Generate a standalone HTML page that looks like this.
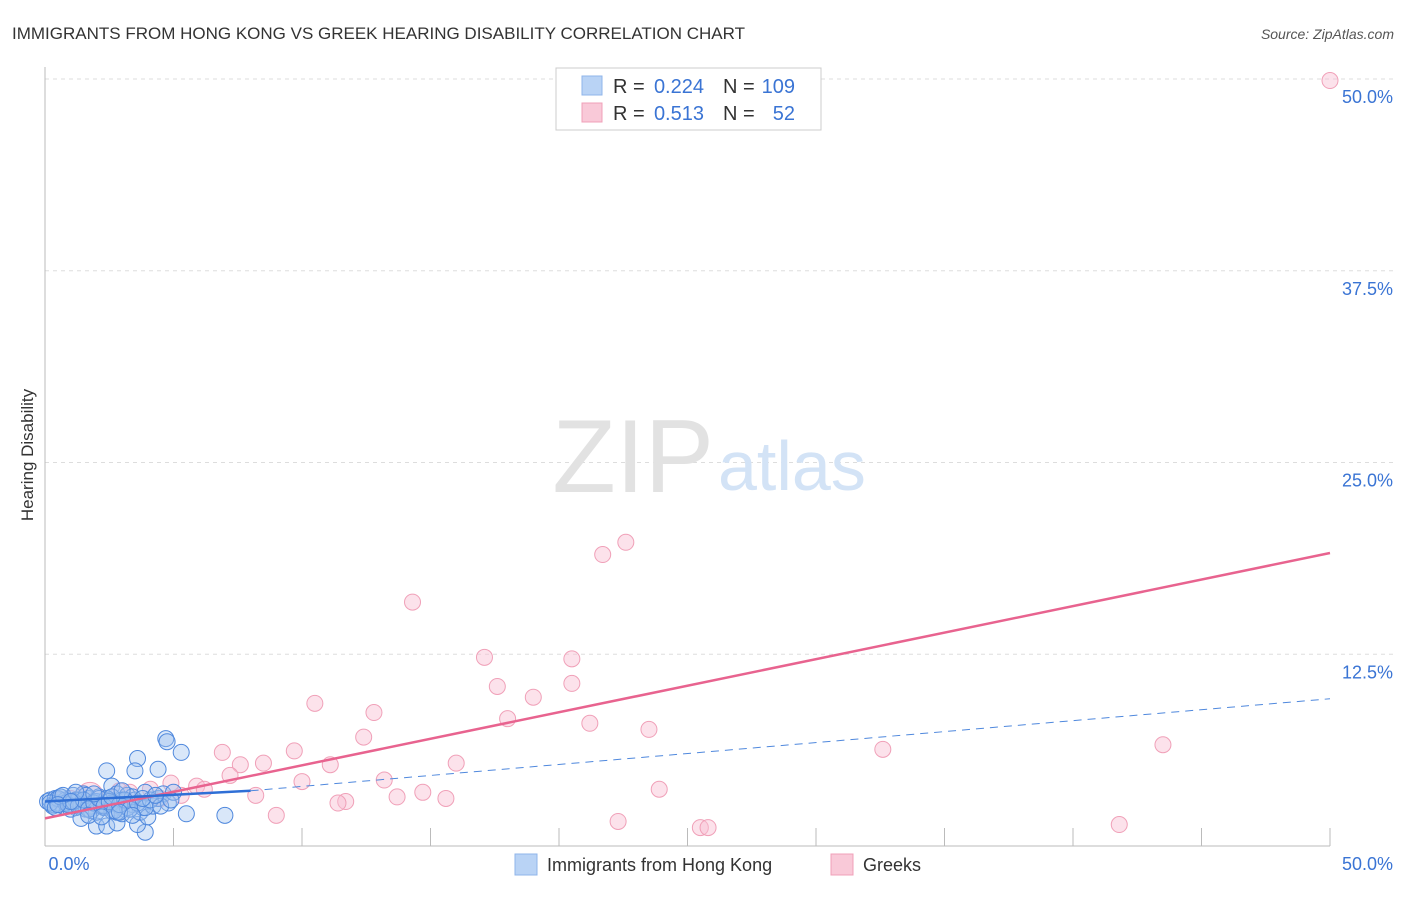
<!DOCTYPE html>
<html><head><meta charset="utf-8"><style>
body{margin:0;background:#fff;font-family:"Liberation Sans",sans-serif;}
svg text{font-family:"Liberation Sans",sans-serif;}
</style></head><body>
<svg id="chart" width="1406" height="892" viewBox="0 0 1406 892" xmlns="http://www.w3.org/2000/svg">
<text x="12" y="39" font-size="17" fill="#333">IMMIGRANTS FROM HONG KONG VS GREEK HEARING DISABILITY CORRELATION CHART</text>
<text x="1394" y="39" font-size="14" fill="#555" font-style="italic" text-anchor="end">Source: ZipAtlas.com</text>
<text transform="translate(33,455) rotate(-90)" font-size="17" fill="#333" text-anchor="middle">Hearing Disability</text>
<g id="grid"></g>
<g id="axes"></g>
<text x="714" y="492" font-size="104" text-anchor="end" fill="#e2e2e2" font-family="Liberation Serif">ZIP</text>
<text x="718" y="490" font-size="70" fill="#d3e3f6">atlas</text>
<g id="pts-pink"></g>
<g id="pts-blue"></g>
<g id="lines"></g>
<g>
<rect x="556" y="68" width="265" height="62" fill="#fff" stroke="#ccc"/>
<rect x="582" y="76" width="20" height="19" fill="#b9d3f5" stroke="#8fb4ea"/>
<rect x="582" y="103" width="20" height="19" fill="#f9c9d8" stroke="#f0a0b8"/>
<text x="613" y="93" font-size="20" fill="#333">R =</text>
<text x="704" y="93" font-size="20" fill="#3a74d4" text-anchor="end">0.224</text>
<text x="723" y="93" font-size="20" fill="#333">N =</text>
<text x="795" y="93" font-size="20" fill="#3a74d4" text-anchor="end">109</text>
<text x="613" y="120" font-size="20" fill="#333">R =</text>
<text x="704" y="120" font-size="20" fill="#3a74d4" text-anchor="end">0.513</text>
<text x="723" y="120" font-size="20" fill="#333">N =</text>
<text x="795" y="120" font-size="20" fill="#3a74d4" text-anchor="end">52</text>
</g>
<g>
<rect x="515" y="854" width="22" height="21" fill="#b9d3f5" stroke="#8fb4ea"/>
<text x="547" y="871" font-size="18" fill="#333">Immigrants from Hong Kong</text>
<rect x="831" y="854" width="22" height="21" fill="#f9c9d8" stroke="#f0a0b8"/>
<text x="863" y="871" font-size="18" fill="#333">Greeks</text>
</g>
</svg>
<script>
const yTicks=[12.5,25,37.5,50];
const yTickLabels=["12.5%","25.0%","37.5%","50.0%"];
const xTickLabels=["0.0%","50.0%"];
const pinkX=[50,22.6,21.7,14.3,17.1,20.5,17.6,20.5,19.0,10.5,12.8,18.0,21.2,23.5,12.4,43.5,32.6,6.9,9.7,8.5,7.6,16.0,11.1,7.2,10.0,13.2,4.9,5.9,6.2,23.9,14.7,13.7,8.2,15.6,11.7,11.4,9.0,22.3,25.5,25.8,41.8,1.75,3.3,4.1,5.3,2.5,1.0,4.5,0.6,2.9,1.5];
const pinkY=[49.9,19.8,19.0,15.9,12.3,12.2,10.4,10.6,9.7,9.3,8.7,8.3,8.0,7.6,7.1,6.6,6.3,6.1,6.2,5.4,5.3,5.4,5.3,4.6,4.2,4.3,4.1,3.9,3.7,3.7,3.5,3.2,3.3,3.1,2.9,2.8,2.0,1.6,1.2,1.2,1.4,3.3,3.5,3.7,3.3,3.0,3.1,3.1,3.0,3.6,3.4];
const blueX=[4.7,4.75,3.6,5.3,2.4,3.5,4.4,2.6,7.0,5.5,3.9,3.6,2.0,2.4,2.8,0.1,0.2,0.3,0.4,0.5,0.6,0.7,0.8,0.9,1.0,1.1,1.2,1.3,1.4,1.5,1.6,1.7,1.8,1.9,2.0,2.1,2.2,2.3,2.5,2.6,2.7,2.8,2.9,3.0,3.1,3.2,3.3,3.4,3.5,3.7,3.8,3.9,4.0,4.2,4.4,4.6,4.8,5.0,0.3,0.5,0.8,1.0,1.2,1.4,1.6,1.8,2.0,2.2,2.4,2.6,2.8,3.0,3.2,3.4,0.2,0.4,0.6,0.9,1.1,1.3,1.5,1.7,1.9,2.1,2.3,2.5,2.7,2.9,3.1,3.3,3.6,3.9,4.1,4.5,1.4,1.7,2.2,2.9,3.4,0.7,1.2,1.9,2.6,3.0,3.8,4.3,4.9,1.0,0.5];
const blueY=[7.0,6.8,5.7,6.1,4.9,4.9,5.0,3.9,2.0,2.1,0.9,1.4,1.3,1.3,1.5,2.9,3.0,2.7,3.1,2.8,3.2,2.6,3.0,2.9,2.7,3.3,2.5,3.0,2.8,3.4,2.4,3.1,2.6,2.9,2.2,3.2,2.7,2.5,3.0,2.3,2.8,3.4,2.6,2.1,2.9,3.3,2.4,2.7,3.0,2.2,2.5,3.5,1.9,2.6,3.1,3.4,2.8,3.5,2.6,3.1,2.8,2.4,3.0,2.7,3.3,2.3,2.9,2.6,3.1,2.8,2.2,3.0,2.5,3.2,2.8,2.5,3.2,2.7,2.9,2.6,3.0,2.4,2.8,3.1,2.6,2.9,2.3,2.7,3.0,2.4,2.8,2.5,3.0,2.6,1.8,2.0,1.9,2.2,2.0,3.3,3.5,3.4,3.2,3.6,3.1,3.3,3.0,2.9,2.7];
const pinkTrend=[0,1.8,50,19.1];
const blueTrend=[0,2.9,8,3.6,50,9.6];
const X0=45,X1=1330,Y0=846,Y1=79;
const sx=v=>X0+(v/50)*(X1-X0), sy=v=>Y0-(v/50)*(Y0-Y1);
const NS="http://www.w3.org/2000/svg";
function mk(t,a,p){const e=document.createElementNS(NS,t);for(const k in a)e.setAttribute(k,a[k]);p.appendChild(e);return e;}
const grid=document.getElementById('grid'),axes=document.getElementById('axes');
yTicks.forEach((t,i)=>{
 const l=mk('line',{x1:X0,x2:1395,y1:sy(t),y2:sy(t),stroke:'#ddd','stroke-dasharray':'4,4'},grid);
 
 
 const tx=mk('text',{x:1393,y:sy(t)+24,'font-size':18,fill:'#3a74d4','text-anchor':'end'},axes);
 tx.textContent=yTickLabels[i];
 
 
});
mk('line',{x1:X0,x2:X0,y1:67,y2:Y0,stroke:'#bbb'},axes);
mk('line',{x1:X0,x2:1330,y1:Y0,y2:Y0,stroke:'#bbb'},axes);
for(let i=1;i<=10;i++){const x=X0+i*(X1-X0)/10;mk('line',{x1:x,x2:x,y1:Y0-18,y2:Y0,stroke:'#bbb'},axes);}
[[X0+24,xTickLabels[0],'middle'],[1393,xTickLabels[1],'end']].forEach(d=>{
 const t=mk('text',{x:d[0],y:870,'font-size':18,fill:'#3a74d4','text-anchor':d[2]},axes);t.textContent=d[1];
 
 
});
const gp=document.getElementById('pts-pink');
pinkX.forEach((v,i)=>{const c=mk('circle',{cx:sx(v),cy:sy(pinkY[i]),r:(i==41?13:8),fill:'rgba(249,190,210,0.45)',stroke:'#f0a0b8','stroke-width':1},gp);
 
 });
const gb=document.getElementById('pts-blue');
blueX.forEach((v,i)=>{const c=mk('circle',{cx:sx(v),cy:sy(blueY[i]),r:8,fill:'rgba(160,195,240,0.4)',stroke:'#4f88dd','stroke-width':1},gb);
 
 });
const gl=document.getElementById('lines');
const pl=mk('line',{x1:sx(pinkTrend[0]),y1:sy(pinkTrend[1]),x2:sx(pinkTrend[2]),y2:sy(pinkTrend[3]),stroke:'#e8638f','stroke-width':2.5},gl);


const bl=mk('line',{x1:sx(blueTrend[0]),y1:sy(blueTrend[1]),x2:sx(blueTrend[2]),y2:sy(blueTrend[3]),stroke:'#2f6fd6','stroke-width':2.5},gl);


const bd=mk('line',{x1:sx(blueTrend[2]),y1:sy(blueTrend[3]),x2:sx(blueTrend[4]),y2:sy(blueTrend[5]),stroke:'#4f88dd','stroke-width':1,'stroke-dasharray':'8,6'},gl);


</script>
</body></html>
